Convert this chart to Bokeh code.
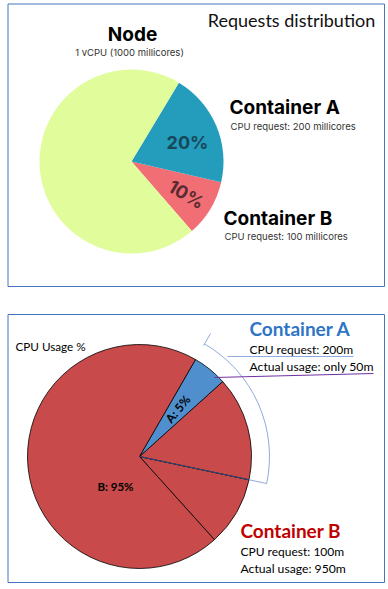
import numpy as np
from bokeh.plotting import figure
from bokeh.models import Range1d, ColumnDataSource
from bokeh.core.properties import value
from bokeh.embed import file_html
from bokeh.resources import INLINE

# ---- data ----
top_categories = ["Container B", "Container A", "Node"]
top_values = [10, 20, 70]          # percent of node CPU requested
top_colors = ["#f06e74", "#249cbc", "#e1fd9b"]
top_labels = ["10%", "20%", ""]

bottom_categories = ["B request", "A unused request", "A usage", "B rest"]
bottom_values = [10, 15, 5, 70]     # percent of CPU usage
bottom_colors = ["#c84a4a", "#c84a4a", "#4f8fce", "#c84a4a"]
usage_labels = ["A: 5%", "B: 95%"]

W, H = 388, 589
def Y(s):
    return H - s

p = figure(width=W, height=H, x_range=Range1d(0, W), y_range=Range1d(0, H),
           output_backend="svg", toolbar_location=None, min_border=0)
p.axis.visible = False
p.grid.visible = False
p.outline_line_color = None
p.background_fill_color = "white"

# ---- panel borders ----
p.quad(left=[7.5, 7.5], right=[384, 384], top=[Y(3.5), Y(314)], bottom=[Y(286), Y(582)],
       fill_color=None, line_color="#4472c4", line_width=1)

# ---- top pie ----
cx, cy, r = 131, Y(161), 92
start = -49.0
vals = np.array(top_values, dtype=float)
ang = vals / vals.sum() * 360.0
ends = start + np.cumsum(ang)
starts = ends - ang
src = ColumnDataSource(dict(cat=top_categories, s=np.radians(starts), e=np.radians(ends), c=top_colors))
p.wedge(x=cx, y=cy, radius=r, start_angle="s", end_angle="e", fill_color="c",
        line_color=None, source=src)

mid = np.radians((starts + ends) / 2)
p.text(x=[cx + 64 * np.cos(mid[0])], y=[cy + 64 * np.sin(mid[0])], text=[top_labels[0]],
       angle=[mid[0]], text_font=value("Inter"), text_font_style="bold", text_font_size="18px",
       text_color="#5a2a30", text_align="center", text_baseline="middle")
p.text(x=[187], y=[Y(142)], text=[top_labels[1]],
       text_font=value("Inter"), text_font_style="bold", text_font_size="18px",
       text_color="#17485a", text_align="center", text_baseline="middle")

p.text(x=[291], y=[Y(19)], text=["Requests distribution"], text_font=value("Lato"),
       text_font_size="18px", text_color="#111111", text_align="center", text_baseline="middle")
p.text(x=[132], y=[Y(34)], text=["Node"], text_font=value("Inter"), text_font_style="bold",
       text_font_size="19px", text_color="black", text_align="center", text_baseline="middle")
p.text(x=[129], y=[Y(52)], text=["1 vCPU (1000 millicores)"], text_font=value("Inter"),
       text_font_size="9.5px", text_color="#333333", text_align="center", text_baseline="middle")
p.text(x=[229], y=[Y(107)], text=["Container A"], text_font=value("Inter"), text_font_style="bold",
       text_font_size="19px", text_color="black", text_align="left", text_baseline="middle")
p.text(x=[230], y=[Y(126)], text=["CPU request: 200 millicores"], text_font=value("Inter"),
       text_font_size="9.5px", text_color="#333333", text_align="left", text_baseline="middle")
p.text(x=[223], y=[Y(218)], text=["Container B"], text_font=value("Inter"), text_font_style="bold",
       text_font_size="19px", text_color="black", text_align="left", text_baseline="middle")
p.text(x=[224], y=[Y(236)], text=["CPU request: 100 millicores"], text_font=value("Inter"),
       text_font_size="9.5px", text_color="#333333", text_align="left", text_baseline="middle")

# ---- bottom pie ----
bx, by, br = 139, Y(456), 112
bstart = -48.0
bv = np.array(bottom_values, dtype=float)
bang = bv / bv.sum() * 360.0
bends = bstart + np.cumsum(bang)
bstarts = bends - bang
bsrc = ColumnDataSource(dict(cat=bottom_categories, s=np.radians(bstarts), e=np.radians(bends),
                             c=bottom_colors))
p.wedge(x=bx, y=by, radius=br, start_angle="s", end_angle="e", fill_color="c",
        line_color="black", line_width=0.8, source=bsrc)
# request boundary (dark blue edge)
a_req = np.radians(bstarts[1])
p.line(x=[bx, bx + br * np.cos(a_req)], y=[by, by + br * np.sin(a_req)], line_color="#2f4a7a", line_width=1)

# bracket showing A's request (20%)
arc_s = bstarts[1]
arc_e = bends[2]
p.arc(x=bx, y=by, radius=130, start_angle=np.radians(arc_s), end_angle=np.radians(arc_e),
      line_color="#8faadc", line_width=1)
p.line(x=[bx + br * np.cos(a_req), bx + 130 * np.cos(a_req)],
       y=[by + br * np.sin(a_req), by + 130 * np.sin(a_req)], line_color="#8faadc", line_width=1)
a_top = np.radians(arc_e)
p.line(x=[bx + 128 * np.cos(a_top), bx + 142 * np.cos(a_top)],
       y=[by + 128 * np.sin(a_top), by + 142 * np.sin(a_top)], line_color="#8faadc", line_width=1)

# callout lines
p.line(x=[227, 353], y=[Y(356), Y(356)], line_color="#8faadc", line_width=1)
p.line(x=[214, 373], y=[Y(377), Y(373)], line_color="#7030a0", line_width=1)

amid = np.radians((bstarts[2] + bends[2]) / 2)
p.text(x=[bx + 61 * np.cos(amid)], y=[by + 61 * np.sin(amid)], text=[usage_labels[0]], angle=[amid],
       text_font=value("Lato"), text_font_style="bold", text_font_size="12px", text_color="black",
       text_align="center", text_baseline="middle")
p.text(x=[115], y=[Y(486)], text=[usage_labels[1]], text_font=value("Lato"), text_font_style="bold",
       text_font_size="11.5px", text_color="black", text_align="center", text_baseline="middle")

p.text(x=[15], y=[Y(345)], text=["CPU Usage %"], text_font=value("Lato"),
       text_font_size="11.7px", text_color="black", text_align="left", text_baseline="middle")
p.text(x=[249], y=[Y(328)], text=["Container A"], text_font=value("Lato"), text_font_style="bold",
       text_font_size="19px", text_color="#2e75c6", text_align="left", text_baseline="middle")
p.text(x=[249], y=[Y(349)], text=["CPU request: 200m"], text_font=value("Lato"),
       text_font_size="12px", text_color="black", text_align="left", text_baseline="middle")
p.text(x=[249], y=[Y(366)], text=["Actual usage: only 50m"], text_font=value("Lato"),
       text_font_size="12.2px", text_color="black", text_align="left", text_baseline="middle")
p.text(x=[240], y=[Y(530)], text=["Container B"], text_font=value("Lato"), text_font_style="bold",
       text_font_size="19px", text_color="#c00000", text_align="left", text_baseline="middle")
p.text(x=[240], y=[Y(551)], text=["CPU request: 100m"], text_font=value("Lato"),
       text_font_size="12px", text_color="black", text_align="left", text_baseline="middle")
p.text(x=[240], y=[Y(568)], text=["Actual usage: 950m"], text_font=value("Lato"),
       text_font_size="12.2px", text_color="black", text_align="left", text_baseline="middle")

open("out.html", "w").write(file_html(p, INLINE))
